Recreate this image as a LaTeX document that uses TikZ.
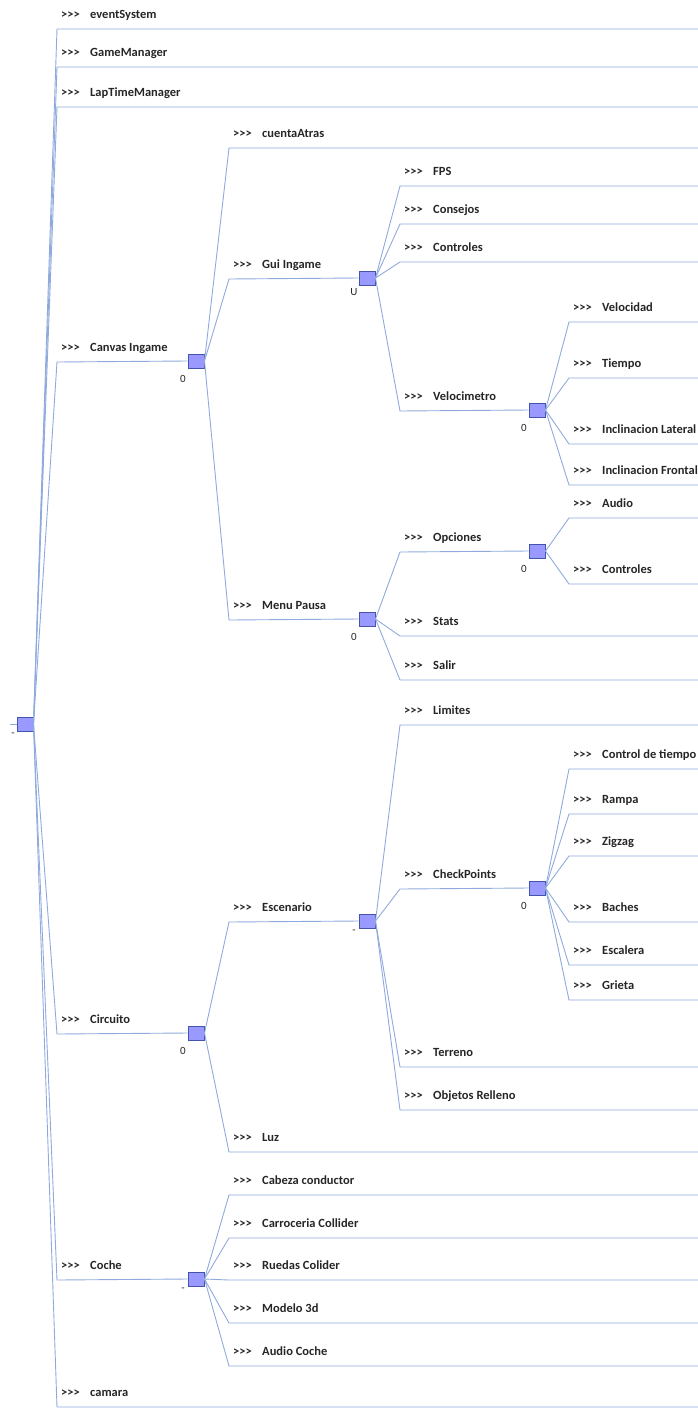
\documentclass[tikz,border=0pt]{standalone}
\usepackage{fontspec}
\setmainfont{Carlito}[Ligatures=TeXOff]

\definecolor{branchblue}{RGB}{143,170,220}
\definecolor{hubfill}{RGB}{153,153,255}
\definecolor{hubedge}{RGB}{68,84,170}
\definecolor{textgray}{RGB}{38,38,38}

\tikzset{
  hub/.style={draw=hubedge, fill=hubfill, line width=1pt, minimum width=16pt, minimum height=14pt, inner sep=0pt},
  branch/.style={draw=branchblue, line width=0.9pt},
  tag/.style={anchor=base west, inner sep=0pt, font=\bfseries\fontsize{12.5}{14}\selectfont, text=textgray},
  flag/.style={inner sep=0pt, font=\fontsize{11}{13}\selectfont, text=textgray},
}
\newcommand\tagtext[1]{\makebox[29pt][l]{>\kern0pt>\kern0pt>}#1}

\begin{document}
\begin{tikzpicture}[x=1pt, y=-1pt]
    \useasboundingbox (0,0) rectangle (698,1409);
    \coordinate (edge) at (698,0);

    % Root
    \coordinate (stub) at (10,724);
    \node[hub] (root) at (25,724) {};
    \draw[branch] (stub) -- (root.west);
    \node[flag] (root-f) at ([xshift=-12pt,yshift=-11pt]root.center) {-};

    % Leaves of the root
    \foreach \n/\y/\t in {evs/29/eventSystem, gm/67/GameManager, ltm/107/LapTimeManager, cam/1407/camara} {
        \coordinate (\n) at (57,\y);
        \draw[branch] (root.east) -- (\n) -- (\n -| edge);
        \node[tag] (\n-t) at ([xshift=4pt,yshift=11pt]\n) {\tagtext{\t}};
    }

    % Canvas Ingame
    \coordinate (canvas) at (57,362);
    \node[hub] (canvas-b) at (196,361) {};
    \draw[branch] (root.east) -- (canvas) -- (canvas-b.west);
    \node[tag] (canvas-t) at ([xshift=4pt,yshift=11pt]canvas) {\tagtext{Canvas Ingame}};
    \node[flag] (canvas-f) at ([xshift=-13pt,yshift=-18pt]canvas-b.center) {0};

    \coordinate (cta) at (229,148);
    \draw[branch] (canvas-b.east) -- (cta) -- (cta -| edge);
    \node[tag] (cta-t) at ([xshift=4pt,yshift=11pt]cta) {\tagtext{cuentaAtras}};

    % Gui Ingame
    \coordinate (gui) at (229,279);
    \node[hub] (gui-b) at (367,278) {};
    \draw[branch] (canvas-b.east) -- (gui) -- (gui-b.west);
    \node[tag] (gui-t) at ([xshift=4pt,yshift=11pt]gui) {\tagtext{Gui Ingame}};
    \node[flag] (gui-f) at ([xshift=-13pt,yshift=-14pt]gui-b.center) {U};

    \foreach \n/\y/\t in {fps/186/FPS, cons/224/Consejos, ctrl/262/Controles} {
        \coordinate (\n) at (400,\y);
        \draw[branch] (gui-b.east) -- (\n) -- (\n -| edge);
        \node[tag] (\n-t) at ([xshift=4pt,yshift=11pt]\n) {\tagtext{\t}};
    }

    % Velocimetro
    \coordinate (velo) at (400,411);
    \node[hub] (velo-b) at (537,410) {};
    \draw[branch] (gui-b.east) -- (velo) -- (velo-b.west);
    \node[tag] (velo-t) at ([xshift=4pt,yshift=11pt]velo) {\tagtext{Velocimetro}};
    \node[flag] (velo-f) at ([xshift=-13pt,yshift=-18pt]velo-b.center) {0};

    \foreach \n/\y/\t in {vel/322/Velocidad, tiem/378/Tiempo, inl/444/Inclinacion Lateral, inf/485/Inclinacion Frontal} {
        \coordinate (\n) at (569,\y);
        \draw[branch] (velo-b.east) -- (\n) -- (\n -| edge);
        \node[tag] (\n-t) at ([xshift=4pt,yshift=11pt]\n) {\tagtext{\t}};
    }

    % Menu Pausa
    \coordinate (pausa) at (229,620);
    \node[hub] (pausa-b) at (367,619) {};
    \draw[branch] (canvas-b.east) -- (pausa) -- (pausa-b.west);
    \node[tag] (pausa-t) at ([xshift=4pt,yshift=11pt]pausa) {\tagtext{Menu Pausa}};
    \node[flag] (pausa-f) at ([xshift=-13pt,yshift=-18pt]pausa-b.center) {0};

    \foreach \n/\y/\t in {stats/636/Stats, salir/680/Salir} {
        \coordinate (\n) at (400,\y);
        \draw[branch] (pausa-b.east) -- (\n) -- (\n -| edge);
        \node[tag] (\n-t) at ([xshift=4pt,yshift=11pt]\n) {\tagtext{\t}};
    }

    % Opciones
    \coordinate (opc) at (400,552);
    \node[hub] (opc-b) at (537,551) {};
    \draw[branch] (pausa-b.east) -- (opc) -- (opc-b.west);
    \node[tag] (opc-t) at ([xshift=4pt,yshift=11pt]opc) {\tagtext{Opciones}};
    \node[flag] (opc-f) at ([xshift=-13pt,yshift=-18pt]opc-b.center) {0};

    \foreach \n/\y/\t in {audio/518/Audio, octrl/584/Controles} {
        \coordinate (\n) at (569,\y);
        \draw[branch] (opc-b.east) -- (\n) -- (\n -| edge);
        \node[tag] (\n-t) at ([xshift=4pt,yshift=11pt]\n) {\tagtext{\t}};
    }

    % Circuito
    \coordinate (circ) at (57,1034);
    \node[hub] (circ-b) at (196,1033) {};
    \draw[branch] (root.east) -- (circ) -- (circ-b.west);
    \node[tag] (circ-t) at ([xshift=4pt,yshift=11pt]circ) {\tagtext{Circuito}};
    \node[flag] (circ-f) at ([xshift=-13pt,yshift=-18pt]circ-b.center) {0};

    \coordinate (luz) at (229,1152);
    \draw[branch] (circ-b.east) -- (luz) -- (luz -| edge);
    \node[tag] (luz-t) at ([xshift=4pt,yshift=11pt]luz) {\tagtext{Luz}};

    % Escenario
    \coordinate (esc) at (229,922);
    \node[hub] (esc-b) at (367,921) {};
    \draw[branch] (circ-b.east) -- (esc) -- (esc-b.west);
    \node[tag] (esc-t) at ([xshift=4pt,yshift=11pt]esc) {\tagtext{Escenario}};
    \node[flag] (esc-f) at ([xshift=-13pt,yshift=-11pt]esc-b.center) {-};

    \foreach \n/\y/\t in {lim/725/Limites, terr/1067/Terreno, obj/1110/Objetos Relleno} {
        \coordinate (\n) at (400,\y);
        \draw[branch] (esc-b.east) -- (\n) -- (\n -| edge);
        \node[tag] (\n-t) at ([xshift=4pt,yshift=11pt]\n) {\tagtext{\t}};
    }

    % CheckPoints
    \coordinate (chk) at (400,889);
    \node[hub] (chk-b) at (537,888) {};
    \draw[branch] (esc-b.east) -- (chk) -- (chk-b.west);
    \node[tag] (chk-t) at ([xshift=4pt,yshift=11pt]chk) {\tagtext{CheckPoints}};
    \node[flag] (chk-f) at ([xshift=-13pt,yshift=-18pt]chk-b.center) {0};

    \foreach \n/\y/\t in {ctt/769/Control de tiempo, rampa/814/Rampa, zig/856/Zigzag, bach/922/Baches, escal/965/Escalera, grieta/1000/Grieta} {
        \coordinate (\n) at (569,\y);
        \draw[branch] (chk-b.east) -- (\n) -- (\n -| edge);
        \node[tag] (\n-t) at ([xshift=4pt,yshift=11pt]\n) {\tagtext{\t}};
    }

    % Coche
    \coordinate (coche) at (57,1280);
    \node[hub] (coche-b) at (196,1279) {};
    \draw[branch] (root.east) -- (coche) -- (coche-b.west);
    \node[tag] (coche-t) at ([xshift=4pt,yshift=11pt]coche) {\tagtext{Coche}};
    \node[flag] (coche-f) at ([xshift=-13pt,yshift=-11pt]coche-b.center) {-};

    \foreach \n/\y/\t in {cab/1195/Cabeza conductor, carr/1238/Carroceria Collider, rued/1280/Ruedas Colider, mod/1323/Modelo 3d, acoche/1366/Audio Coche} {
        \coordinate (\n) at (229,\y);
        \draw[branch] (coche-b.east) -- (\n) -- (\n -| edge);
        \node[tag] (\n-t) at ([xshift=4pt,yshift=11pt]\n) {\tagtext{\t}};
    }

\end{tikzpicture}
\end{document}
